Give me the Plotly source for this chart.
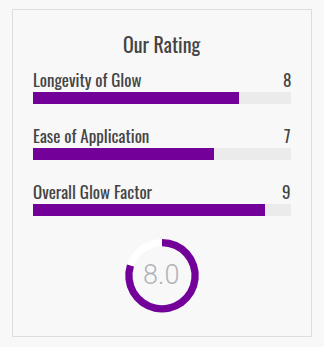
import plotly.graph_objects as go

categories = ["Longevity of Glow", "Ease of Application", "Overall Glow Factor"]
scores = [8, 7, 9]
max_score = 10
overall = 8.0
title_text = "Our Rating"

W, H = 324, 347
PURPLE = "#720099"
TRACK = "#ebebeb"
BG = "#f8f8f8"
TXT = "#444444"
FONT = "Oswald, 'Liberation Sans Narrow', 'DejaVu Sans Condensed', sans-serif"

fig = go.Figure()

# background tracks
fig.add_trace(go.Bar(
    y=categories, x=[max_score] * len(categories), orientation="h",
    marker=dict(color=TRACK, line=dict(width=0)), width=0.214,
    hoverinfo="skip", showlegend=False, xaxis="x", yaxis="y"))
# score bars
fig.add_trace(go.Bar(
    y=categories, x=scores, orientation="h",
    marker=dict(color=PURPLE, line=dict(width=0)), width=0.214,
    hoverinfo="skip", showlegend=False, xaxis="x", yaxis="y"))

# donut
cx, cy, r = 162, 275.7, 36.8
fig.add_trace(go.Pie(
    values=[overall, max_score - overall], sort=False, direction="clockwise",
    rotation=0, hole=0.80, textinfo="none", hoverinfo="skip", showlegend=False,
    marker=dict(colors=[PURPLE, "#ffffff"], line=dict(width=0)),
    domain=dict(x=[(cx - r) / W, (cx + r) / W],
                y=[(H - cy - r) / H, (H - cy + r) / H])))

annotations = []
for c, s in zip(categories, scores):
    annotations.append(dict(x=0, y=c, xref="x", yref="y", text=c, showarrow=False,
                            xanchor="left", yanchor="middle", yshift=18.5, xshift=-2,
                            font=dict(family=FONT, size=17, color=TXT)))
    annotations.append(dict(x=max_score, y=c, xref="x", yref="y", text=str(s),
                            showarrow=False, xanchor="right", yanchor="middle", yshift=18.5,
                            xshift=2,
                            font=dict(family=FONT, size=17, color=TXT)))

annotations.append(dict(x=162 / W, y=1 - 44 / H, xref="paper", yref="paper",
                        text=title_text, showarrow=False, xanchor="center", yanchor="middle",
                        font=dict(family=FONT, size=20, color=TXT)))
annotations.append(dict(x=160.5 / W, y=1 - 274.5 / H, xref="paper", yref="paper",
                        text=f"{overall:.1f}", showarrow=False, xanchor="center",
                        yanchor="middle",
                        font=dict(family="Roboto, sans-serif", size=27, weight=300,
                                  color="#b0b3b8")))

top_px, bot_px = 70, 238
fig.update_layout(
    width=W, height=H, margin=dict(l=0, r=0, t=0, b=0),
    paper_bgcolor=BG, plot_bgcolor="rgba(0,0,0,0)",
    barmode="overlay", bargap=0,
    xaxis=dict(domain=[33 / W, 291 / W], range=[0, max_score], visible=False, fixedrange=True),
    yaxis=dict(domain=[1 - bot_px / H, 1 - top_px / H], range=[2.5, -0.5],
               type="category", categoryorder="array", categoryarray=categories,
               visible=False, fixedrange=True),
    annotations=annotations,
    shapes=[dict(type="rect", xref="paper", yref="paper",
                 x0=12.5 / W, x1=311.5 / W, y0=1 - 336.5 / H, y1=1 - 9.5 / H,
                 line=dict(color="#dddddd", width=1), fillcolor="rgba(0,0,0,0)", layer="below")],
)

fig.write_html("out.html", config={"displayModeBar": False})
